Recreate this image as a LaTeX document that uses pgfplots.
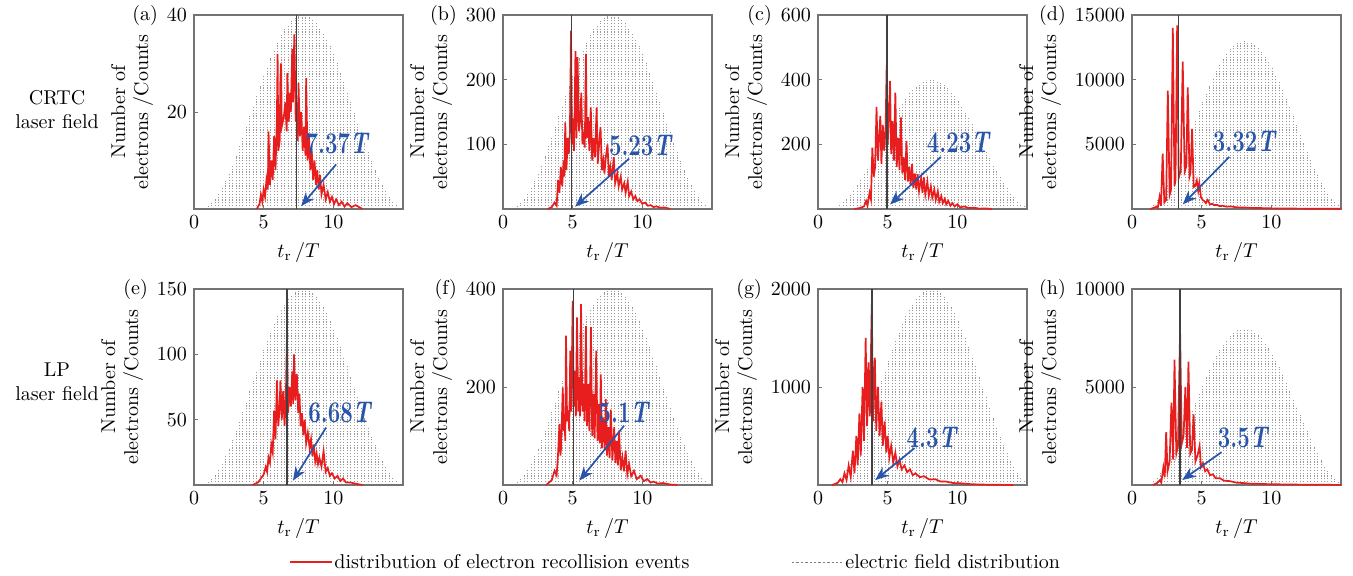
\documentclass[border=0pt]{standalone}
\usepackage{graphicx}
\usepackage{pgfplots}
\usepackage{pgfplotstable}
\pgfplotsset{compat=1.18}
\usetikzlibrary{arrows.meta}
\definecolor{annblue}{RGB}{40,85,170}
\definecolor{redc}{RGB}{232,30,30}

\pgfplotstableread{
x e
0.75 0.0055
1.0 0.0161
1.25 0.0322
1.5 0.0535
1.75 0.0799
2.0 0.1110
2.25 0.1464
2.5 0.1859
2.75 0.2289
3.0 0.2749
3.25 0.3235
3.5 0.3740
3.75 0.4260
4.0 0.4789
4.25 0.5319
4.5 0.5846
4.75 0.6363
5.0 0.6863
5.25 0.7344
5.5 0.7799
5.75 0.8221
6.0 0.8610
6.25 0.8957
6.5 0.9258
6.75 0.9512
7.0 0.9714
7.25 0.9864
7.5 0.9960
7.75 0.9999
8.0 0.9982
8.25 0.9909
8.5 0.9781
8.75 0.9599
9.0 0.9364
9.25 0.9082
9.5 0.8754
9.75 0.8383
10.0 0.7975
10.25 0.7531
10.5 0.7061
10.75 0.6567
11.0 0.6056
11.25 0.5532
11.5 0.5000
11.75 0.4470
12.0 0.3948
12.25 0.3434
12.5 0.2939
12.75 0.2469
13.0 0.2026
13.25 0.1618
13.5 0.1247
13.75 0.0918
14.0 0.0635
14.25 0.0401
14.5 0.0219
14.75 0.0091
15.0 0.0018
}\envtab

\pgfplotstableread{
4.5 0
4.7 1
4.8 3
4.9 1.5
5.0 4
5.1 2.5
5.2 6
5.3 4
5.35 16
5.45 5
5.55 10
5.65 6
5.75 15
5.85 8
5.95 19
6.0 32
6.05 12
6.15 14
6.2 27
6.25 30
6.3 17
6.45 19
6.55 22
6.65 16
6.7 28
6.8 18
6.9 24
6.95 20
7.05 33
7.1 22
7.2 36
7.3 18
7.35 22
7.45 14
7.5 26
7.6 15
7.7 20
7.8 12
7.9 17
8.0 11
8.05 27
8.15 10
8.25 15
8.35 8
8.45 12
8.55 6
8.65 10
8.75 5
8.85 8
8.95 4
9.05 7
9.15 3
9.3 5
9.45 2
9.6 3.5
9.75 1.5
9.9 2.5
10.05 1
10.2 2
10.4 0.8
10.6 1.5
10.8 0.5
11.0 1.2
11.3 0.4
11.6 0.8
11.9 0.3
12.1 0
}\dataA

\pgfplotstableread{
3.2 0
3.5 3
3.7 10
3.85 5
3.95 45
4.05 25
4.15 65
4.25 35
4.35 75
4.4 50
4.47 134
4.55 60
4.65 110
4.72 85
4.8 115
4.88 276
4.95 100
5.02 140
5.1 90
5.2 244
5.27 110
5.35 235
5.45 120
5.55 140
5.62 180
5.7 100
5.8 120
5.87 95
5.95 240
6.02 110
6.1 142
6.2 90
6.3 157
6.4 75
6.5 110
6.6 80
6.72 157
6.8 70
6.9 101
7.0 127
7.1 60
7.2 75
7.28 55
7.38 80
7.5 100
7.6 50
7.7 65
7.8 45
7.95 80
8.05 40
8.2 55
8.3 35
8.45 50
8.55 30
8.7 40
8.8 25
8.95 42
9.05 20
9.2 27
9.35 15
9.5 20
9.65 12
9.8 15
10.0 8
10.2 10
10.4 5
10.6 6
10.8 3
11.0 4
11.3 2
11.6 2.5
12.0 0
}\dataB

\pgfplotstableread{
2.6 0
3.0 3
3.3 8
3.45 25
3.55 10
3.7 50
3.8 30
3.9 190
4.0 100
4.1 130
4.2 316
4.3 150
4.4 230
4.47 288
4.55 140
4.65 260
4.75 180
4.85 250
4.93 447
5.0 200
5.1 300
5.17 396
5.25 170
5.35 272
5.45 150
5.55 360
5.65 130
5.75 220
5.85 120
5.95 283
6.05 110
6.15 160
6.25 90
6.35 211
6.45 85
6.55 130
6.65 75
6.75 139
6.85 65
6.95 110
7.05 60
7.15 108
7.25 55
7.4 95
7.5 50
7.6 98
7.7 45
7.85 85
7.95 40
8.1 70
8.2 35
8.35 60
8.45 28
8.6 55
8.7 22
8.85 40
8.95 18
9.1 32
9.2 14
9.35 25
9.5 10
9.65 18
9.8 8
10.0 15
10.2 5
10.5 8
10.8 3
11.2 4
11.6 1
12.0 2
12.5 0
}\dataC

\pgfplotstableread{
1.3 0
1.6 100
1.75 200
1.85 80
1.98 950
2.08 250
2.2 4280
2.32 500
2.45 700
2.57 9150
2.7 1100
2.8 1500
2.93 14000
3.05 1800
3.12 2200
3.24 14200
3.35 2400
3.5 3000
3.64 11400
3.78 2900
3.9 3300
4.0 9400
4.13 2500
4.2 2800
4.31 6200
4.43 1700
4.55 1800
4.65 2200
4.75 1400
4.83 2000
4.95 900
5.07 700
5.2 600
5.3 450
5.43 700
5.6 350
5.75 400
5.9 300
6.1 320
6.3 220
6.5 250
6.8 180
7.1 200
7.5 130
8.0 120
8.5 90
9.0 80
10.0 50
11.0 40
12.0 30
13.0 25
14.0 20
15.0 15
}\dataD

\pgfplotstableread{
4.2 0
4.6 2
4.8 5
5.0 8
5.15 14
5.25 10
5.35 21
5.45 17
5.55 31
5.65 25
5.75 57
5.85 35
5.95 80
6.05 45
6.15 60
6.2 80
6.3 50
6.4 72
6.5 45
6.6 72
6.67 112
6.75 55
6.85 75
6.95 60
7.05 87
7.12 62
7.18 100
7.28 65
7.38 85
7.48 55
7.57 70
7.65 45
7.75 55
7.85 38
7.95 50
8.05 32
8.17 40
8.3 28
8.4 35
8.5 22
8.6 31
8.7 18
8.8 24
8.9 16
9.0 21
9.15 14
9.3 26
9.45 10
9.6 13
9.75 7
9.9 9
10.1 5
10.3 7
10.5 3
10.7 5
10.9 2
11.2 2
11.6 1
12.1 0
}\dataE

\pgfplotstableread{
3.1 0
3.5 10
3.7 29
3.85 20
3.95 63
4.05 124
4.12 60
4.17 77
4.29 199
4.35 110
4.4 145
4.47 90
4.52 305
4.6 130
4.69 152
4.75 110
4.83 274
4.9 150
5.0 376
5.08 160
5.17 233
5.23 140
5.31 342
5.4 150
5.48 220
5.53 140
5.6 369
5.7 150
5.79 206
5.86 130
5.95 324
6.03 120
6.12 206
6.2 110
6.31 322
6.4 100
6.5 186
6.58 95
6.69 274
6.78 90
6.86 165
6.94 85
7.02 226
7.1 75
7.2 138
7.3 70
7.38 175
7.47 60
7.57 118
7.65 55
7.74 154
7.85 50
7.98 118
8.07 45
8.17 90
8.25 40
8.33 111
8.45 30
8.57 56
8.68 28
8.8 70
8.92 22
9.05 43
9.2 18
9.4 29
9.6 12
9.88 19
10.1 8
10.36 12
10.6 5
10.8 7
11.1 3
11.5 4
12.0 1
12.5 0
}\dataF

\pgfplotstableread{
1.0 0
1.4 20
1.6 60
1.75 30
1.9 120
2.05 50
2.2 200
2.35 80
2.5 350
2.62 120
2.75 500
2.85 200
2.97 730
3.07 300
3.2 1000
3.3 450
3.42 1500
3.52 600
3.62 1250
3.72 700
3.86 1850
3.95 650
4.08 1300
4.18 550
4.3 1000
4.42 500
4.55 850
4.65 400
4.78 650
4.9 330
5.0 500
5.12 280
5.25 400
5.4 230
5.55 330
5.7 190
5.85 260
6.0 160
6.2 200
6.4 130
6.6 160
6.8 100
7.0 120
7.3 80
7.6 90
8.0 55
8.4 60
8.8 35
9.2 35
9.7 20
10.2 18
11.0 8
12.0 4
13.0 2
14.0 0
}\dataG

\pgfplotstableread{
1.5 0
1.8 100
2.0 250
2.1 120
2.25 900
2.35 400
2.45 2700
2.55 700
2.7 1200
2.83 4200
2.95 1300
3.05 6400
3.18 1600
3.3 2000
3.45 7900
3.57 2100
3.7 2500
3.83 5000
3.95 1900
4.05 6300
4.18 1600
4.3 1800
4.42 3600
4.55 1200
4.7 1500
4.85 2000
4.95 900
5.1 1100
5.25 700
5.4 800
5.6 500
5.8 550
6.0 350
6.3 350
6.6 220
7.0 200
7.5 120
8.0 100
8.5 70
9.0 60
10.0 40
11.0 30
12.0 20
13.0 15
14.0 10
15.0 5
}\dataH

\newcommand{\annlab}[1]{\scalebox{0.74}[1]{\fontsize{15}{15}\selectfont\bfseries #1}}

\pgfplotsset{
  mainax/.style={scale only axis, width=104.5pt, xmin=0, xmax=15, ymin=0,
    xtick={0,5,10}, tick pos=left, tick align=inside, major tick length=2pt,
    axis line style={black!55, line width=0.7pt}, tick style={black!55},
    tick label style={font=\fontsize{10}{12}\selectfont},
    label style={font=\fontsize{10}{11.5}\selectfont},
    xlabel={$t_{\mathrm{r}}$\,/$T$},
    ylabel={Number of\\electrons /Counts}, ylabel style={align=center},
    scaled y ticks=false, yticklabel style={/pgf/number format/1000 sep={}},
    clip=true},
  plabel/.style={extra description/.code={\node[anchor=east, inner sep=1pt, font=\fontsize{10}{12}\selectfont] at (yticklabel cs:1) {#1};}},
  envax/.style={scale only axis, width=104.5pt, xmin=0, xmax=15, ymin=0, hide axis},
  envplot/.style={ycomb, black!40, line width=0.3pt, dash pattern=on 0.6pt off 0.8pt, no markers},
  redplot/.style={redc, line width=0.85pt, no markers},
  vline/.style={black!75, line width=0.8pt, no markers},
  arr/.style={-{Stealth[length=7pt,width=5.5pt]}, line width=0.85pt, annblue, no markers},
}
\tikzset{
  ann/.style={text=annblue, inner sep=0pt},
}

\begin{document}
\begin{tikzpicture}
\path[use as bounding box] (0,0) rectangle (676.5pt,-287.5pt);

% row labels
\node[align=center, font=\fontsize{10}{12}\selectfont] at (28.5pt,-55pt) {CRTC\\laser field};
\node[align=center, font=\fontsize{10}{12}\selectfont] at (28.5pt,-191pt) {LP\\laser field};

% ---------- (a)
\begin{axis}[envax, at={(97pt,-104.5pt)}, height=97pt, ymax=1]
\addplot[envplot] table[x=x,y=e]{\envtab};
\end{axis}
\begin{axis}[mainax, plabel={(a)}, at={(97pt,-104.5pt)}, height=97pt, ymax=40, ytick={20,40}]
\addplot[redplot] table {\dataA};
\addplot[vline] coordinates {(7.37,0) (7.37,40)};
\addplot[arr] coordinates {(10.2,9.2) (7.69,0.6)};
\node[ann] at (axis cs:10.3,13.6) {\annlab{7.37\textit{T}}};
\end{axis}

% ---------- (b)
\begin{axis}[envax, at={(251.5pt,-104.5pt)}, height=97pt, ymax=1]
\addplot[envplot] table[x=x,y=e]{\envtab};
\end{axis}
\begin{axis}[mainax, plabel={(b)}, at={(251.5pt,-104.5pt)}, height=97pt, ymax=300, ytick={100,200,300}]
\addplot[redplot] table {\dataB};
\addplot[vline] coordinates {(4.93,0) (4.93,300)};
\addplot[arr] coordinates {(9.05,78) (5.17,3.6)};
\node[ann] at (axis cs:9.9,98) {\annlab{5.23\textit{T}}};
\end{axis}

% ---------- (c)
\begin{axis}[envax, at={(409pt,-104.5pt)}, height=97pt, ymax=1.5, xmin=-0.3, xmax=14.7]
\addplot[envplot] table[x=x,y=e]{\envtab};
\end{axis}
\begin{axis}[mainax, plabel={(c)}, at={(409pt,-104.5pt)}, height=97pt, ymax=600, ytick={200,400,600}]
\addplot[redplot] table {\dataC};
\addplot[vline] coordinates {(4.93,0) (4.93,600)};
\addplot[arr] coordinates {(8.81,161) (5.17,14)};
\node[ann] at (axis cs:10.1,207) {\annlab{4.23\textit{T}}};
\end{axis}

% ---------- (d)
\begin{axis}[envax, at={(566pt,-104.5pt)}, height=97pt, ymax=1.154, xmin=-0.3, xmax=14.7]
\addplot[envplot] table[x=x,y=e]{\envtab};
\end{axis}
\begin{axis}[mainax, plabel={(d)}, at={(566pt,-104.5pt)}, height=97pt, ymax=15000, ytick={5000,10000,15000}]
\addplot[redplot] table {\dataD};
\addplot[vline] coordinates {(3.33,0) (3.33,15000)};
\addplot[arr] coordinates {(6.98,4030) (3.64,360)};
\node[ann] at (axis cs:8.1,5180) {\annlab{3.32\textit{T}}};
\end{axis}

% ---------- (e)
\begin{axis}[envax, at={(97pt,-242.5pt)}, height=98pt, ymax=1]
\addplot[envplot] table[x=x,y=e]{\envtab};
\end{axis}
\begin{axis}[mainax, plabel={(e)}, at={(97pt,-242.5pt)}, height=98pt, ymax=150, ytick={50,100,150}]
\addplot[redplot] table {\dataE};
\addplot[vline] coordinates {(6.69,0) (6.69,150)};
\addplot[arr] coordinates {(9.48,44) (7.1,3.3)};
\node[ann] at (axis cs:10.5,55.6) {\annlab{6.68\textit{T}}};
\end{axis}

% ---------- (f)
\begin{axis}[envax, at={(251.5pt,-242.5pt)}, height=98pt, ymax=1]
\addplot[envplot] table[x=x,y=e]{\envtab};
\end{axis}
\begin{axis}[mainax, plabel={(f)}, at={(251.5pt,-242.5pt)}, height=98pt, ymax=400, ytick={200,400}]
\addplot[redplot] table {\dataF};
\addplot[vline] coordinates {(5.07,0) (5.07,400)};
\addplot[arr] coordinates {(8.69,121) (5.48,9)};
\node[ann] at (axis cs:8.7,148) {\annlab{5.1\textit{T}}};
\end{axis}

% ---------- (g)
\begin{axis}[envax, at={(409pt,-242.5pt)}, height=98pt, ymax=1, xmin=-0.3, xmax=14.7]
\addplot[envplot] table[x=x,y=e]{\envtab};
\end{axis}
\begin{axis}[mainax, plabel={(g)}, at={(409pt,-242.5pt)}, height=98pt, ymax=2000, ytick={1000,2000}]
\addplot[redplot] table {\dataG};
\addplot[vline] coordinates {(3.88,0) (3.88,2000)};
\addplot[arr] coordinates {(6.93,377) (4.1,50)};
\node[ann] at (axis cs:8.2,480) {\annlab{4.3\textit{T}}};
\end{axis}

% ---------- (h)
\begin{axis}[envax, at={(566pt,-242.5pt)}, height=98pt, ymax=1.25, xmin=-0.3, xmax=14.7]
\addplot[envplot] table[x=x,y=e]{\envtab};
\end{axis}
\begin{axis}[mainax, plabel={(h)}, at={(566pt,-242.5pt)}, height=98pt, ymax=10000, ytick={5000,10000}]
\addplot[redplot] table {\dataH};
\addplot[vline] coordinates {(3.45,0) (3.45,10000)};
\addplot[arr] coordinates {(6.43,1680) (3.6,255)};
\node[ann] at (axis cs:8.0,2400) {\annlab{3.5\textit{T}}};
\end{axis}

% legend
\draw[redc, line width=0.8pt] (145pt,-281pt) -- (166pt,-281pt);
\node[anchor=west, inner sep=1pt, font=\fontsize{10}{12}\selectfont] at (166pt,-281pt) {distribution of electron recollision events};
\draw[black!50, line width=0.5pt, dash pattern=on 1.2pt off 1pt] (396pt,-281pt) -- (421pt,-281pt);
\node[anchor=west, inner sep=1pt, font=\fontsize{10}{12}\selectfont] at (421.5pt,-281pt) {electric field distribution};
\end{tikzpicture}
\end{document}
